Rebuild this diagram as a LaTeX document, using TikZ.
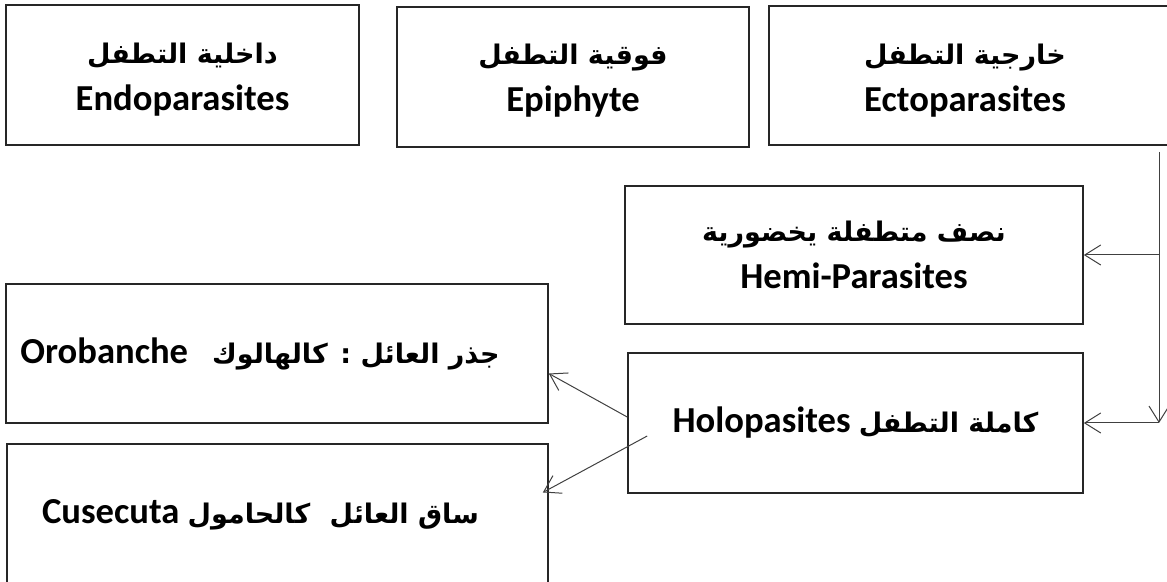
\documentclass[tikz,border=0pt]{standalone}
\usepackage{fontspec}
\setmainfont{Carlito}
\newfontfamily\arabicfont[Script=Arabic]{DejaVu Sans}
\TeXXeTstate=1
\usetikzlibrary{arrows.meta}

\newcommand{\artext}[1]{{\arabicfont\fontsize{13.5}{23}\selectfont\beginR #1\endR}}

\begin{document}
\begin{tikzpicture}[x=0.5pt,y=-0.5pt,
  >={Straight Barb[length=8pt,width=10pt]},
  box node/.style={rectangle,draw=black!85,line width=0.8pt,inner sep=0pt,align=center,font=\fontsize{18.3}{23.5}\selectfont\bfseries},
  text node/.style={inner sep=0pt,align=center,font=\fontsize{18.3}{23.5}\selectfont\bfseries},
  link/.style={->,draw=black!75,line width=0.5pt}]

\useasboundingbox (0,0) rectangle (1167,582);

% top row
\node[box node,minimum width=176.5pt,minimum height=70pt] (endo) at (182.5,75) {};
\node[text node] (endotext) at ([yshift=-2.5pt]endo.center) {\artext{داخلية التطفل}\\Endoparasites};
\node[box node,minimum width=176pt,minimum height=70pt] (epi) at (573,77) {};
\node[text node] (epitext) at ([yshift=-2pt]epi.center) {\artext{فوقية التطفل}\\Epiphyte};
\node[box node,minimum width=206pt,minimum height=69.5pt] (ecto) at (975,75.5) {};
\node[text node] (ectotext) at ([xshift=-5pt,yshift=-2.5pt]ecto.center) {\artext{خارجية التطفل}\\Ectoparasites};

% right column
\node[box node,minimum width=229pt,minimum height=69pt] (hemi) at (854,255) {\artext{نصف متطفلة يخضورية}\\Hemi-Parasites};
\node[box node,minimum width=227.5pt,minimum height=70pt] (holo) at (855.5,423) {Holopasites \artext{كاملة التطفل}};

% left column
\node[box node,minimum width=271pt,minimum height=69.5pt] (orob) at (277,353.5) {};
\node[text node] (orobtext) at ([xshift=-8.5pt]orob.center) {Orobanche\hspace{12pt}\artext{جذر العائل : كالهالوك}};
\node[box node,minimum width=270.5pt,minimum height=70.5pt] (cuse) at (277.5,514.5) {};
\node[text node] (cusetext) at ([xshift=-8.5pt]cuse.center) {Cusecuta \artext{ساق العائل\hspace{5pt} كالحامول}};

% connectors
\coordinate (trunk) at (1159,152);
\draw[link] (trunk) -- (trunk |- holo.east);
\draw[link] (trunk |- hemi.east) -- (hemi.east);
\draw[link] (trunk |- holo.east) -- (holo.east);
\draw[link] ([yshift=3pt]holo.west) -- ([yshift=-10pt]orob.east);
\draw[link] ([xshift=10pt,yshift=-6.5pt]holo.west) -- ([xshift=-3pt,yshift=11pt]cuse.east);
\end{tikzpicture}
\end{document}
